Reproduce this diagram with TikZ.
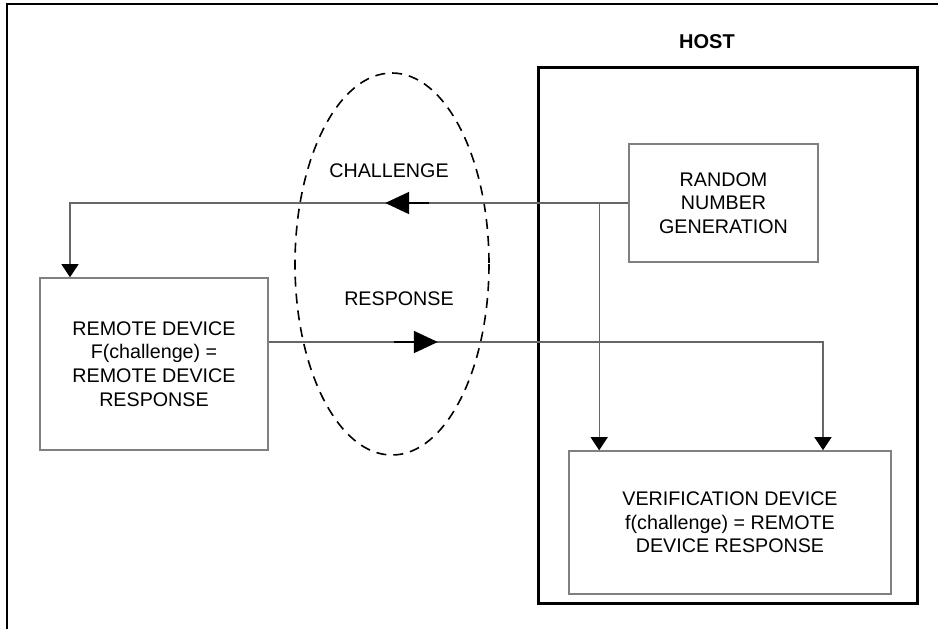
\documentclass[tikz,border=0pt]{standalone}
\usepackage{fontspec}
\setmainfont{Liberation Sans}
\usetikzlibrary{arrows.meta,decorations.markings}
\tikzset{
  box/.style={draw=gray, line width=0.8pt, align=center, inner sep=0pt},
  link/.style={draw=gray!80!black, line width=0.6pt},
  head/.style={black, line width=1pt, -{Triangle[length=12pt,width=11pt]}},
  midhead/.style={postaction={decorate}, decoration={markings, mark=at position #1 with {\draw[head] (-22pt,0) -- (0,0);}}},
}
\begin{document}
\begin{tikzpicture}[x=0.5pt, y=-0.5pt, font=\fontsize{9.85}{11.8}\selectfont]
    \useasboundingbox (0,0) rectangle (938,629);
    \draw[line width=1pt] (7,629) -- (7,4) -- (938,4);

    \node[draw, line width=1.5pt, minimum width=189.5pt, minimum height=268pt, inner sep=0pt] (host) at (727.5,335) {};
    \node[font=\fontsize{10}{12}\selectfont\bfseries] (hostlabel) at (707,42) {HOST};

    \node[box, minimum width=94.5pt, minimum height=59pt] (rng) at (723.5,203) {RANDOM\\NUMBER\\GENERATION};
    \node[box, minimum width=114pt, minimum height=86pt] (remote) at (154,364) {REMOTE DEVICE\\F(challenge) =\\REMOTE DEVICE\\RESPONSE};
    \node[box, minimum width=161pt, minimum height=71.5pt] (verif) at (730,522.5) {VERIFICATION DEVICE\\f(challenge) = REMOTE\\DEVICE RESPONSE};

    \draw[dashed, dash pattern=on 5pt off 3.5pt, line width=0.8pt] (392,264) ellipse [x radius=97, y radius=191];
    \node (challenge) at (389,171) {CHALLENGE};
    \node (response) at (399,299) {RESPONSE};

    \begin{scope}[-{Triangle[length=6.5pt,width=8.5pt,color=black]}]
        \draw[link, midhead=121.5pt] (rng.west) -| ([xshift=-42pt]remote.north);
        \draw[link] ([xshift=-14.5pt]rng.west) -- ([xshift=-14.5pt]rng.west |- verif.north);
        \draw[link, midhead=84.5pt] ([yshift=11pt]remote.east) -| ([xshift=46.5pt]verif.north);
    \end{scope}
\end{tikzpicture}
\end{document}
